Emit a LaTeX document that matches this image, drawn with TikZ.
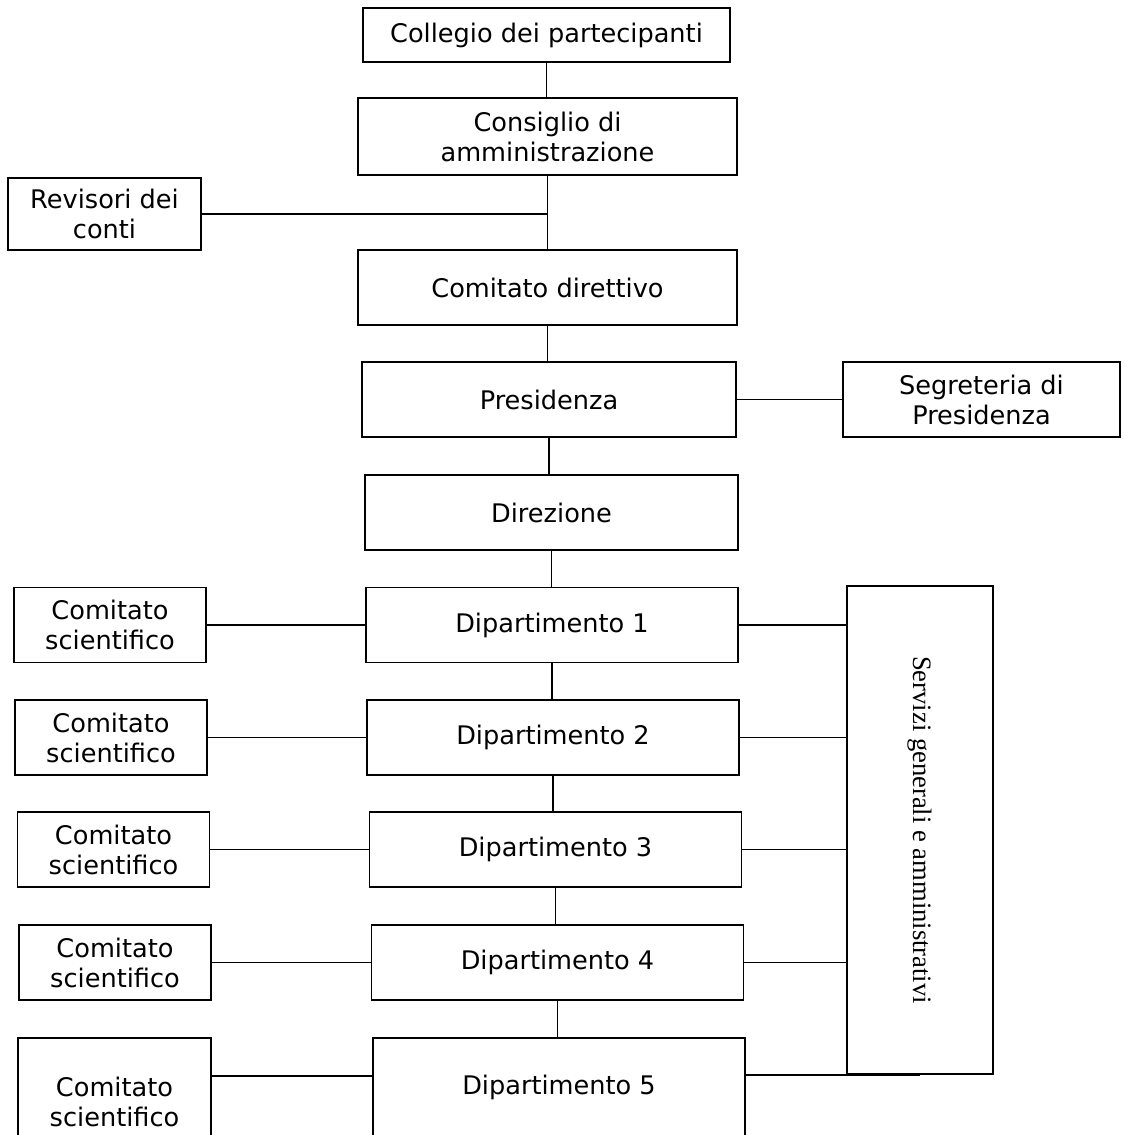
\documentclass[tikz,border=0pt]{standalone}
\usepackage{fontspec}
\setmainfont{DejaVu Sans}
\newfontfamily\servfont{Liberation Serif}
\usetikzlibrary{positioning,calc}

\begin{document}
\begin{tikzpicture}[x=0.5pt,y=-0.5pt,line width=0.8pt,
    box/.style={rectangle,draw,align=center,minimum width=#1,
      minimum height=37.5pt,font=\fontsize{12.8}{15}\selectfont},
    box/.default=186pt]
  \useasboundingbox (0,0) rectangle (1124,1135);
  \clip (0,0) rectangle (1124,1135);
  % top of the chart
  \node[box=183.5pt,minimum height=27pt] (coll) at (546.5,35)
  {Collegio dei partecipanti};
  \node[box=189.5pt,minimum height=38.5pt] (cons) at (547.5,136.5)
  {Consiglio di\\amministrazione};
  \node[box=96.5pt,minimum height=36pt] (rev) at (104.5,214)
  {Revisori dei\\conti};
  \node[box=189.5pt] (codir) at (547.5,287.5) {Comitato direttivo};
  \node[box=187pt] (pres) at (549,399.5) {Presidenza};
  \node[box=138.5pt] (segr) at (981.5,399.5) {Segreteria di\\Presidenza};
  \node[box=186.5pt] (dire) at (551.5,512.5) {Direzione};
  \draw (coll.south) -- (coll.south |- cons.north);
  \draw (cons.south) -- (cons.south |- codir.north);
  \draw (rev.east) -- (rev.east -| cons.south);
  \draw (codir.south) -- (codir.south |- pres.north);
  \draw (pres.east) -- (segr.west);
  \draw (pres.south) -- (pres.south |- dire.north);
  % services
  \node[rectangle,draw,minimum width=73pt,minimum height=244pt]
  (serv) at (920,830) {};
  \node[rotate=-90,font=\servfont\fontsize{13.3}{15}\selectfont]
  (servtxt) at (serv.center) {Servizi generali e amministrativi};
  % departments
  \foreach \i/\dx/\cx/\y in {1/552/110/625,2/553/111/737.5,%
    3/555.5/113.5/849.5,4/557.5/115/962.5}{
    \node[box] (dip\i) at (\dx,\y) {Dipartimento \i};
    \node[box=96pt] (cs\i) at (\cx,\y) {Comitato\\scientifico};
    \draw (cs\i.east) -- (dip\i.west);
    \draw (dip\i.east) -- (dip\i.east -| serv.west);
  }
  \node[box,minimum height=49pt] (dip5) at (559,1087) {Dipartimento 5};
  \node[box=96.5pt,minimum height=64pt] (cs5) at (114.5,1102)
  {Comitato\\scientifico};
  \draw (dire.south) -- (dire.south |- dip1.north);
  \draw (dip1.south) -- (dip1.south |- dip2.north);
  \draw (dip2.south) -- (dip2.south |- dip3.north);
  \draw (dip3.south) -- (dip3.south |- dip4.north);
  \draw (dip4.south) -- (dip4.south |- dip5.north);
  \draw (cs5.east |- 0,1076) -- (dip5.west |- 0,1076);
  \draw (dip5.east |- serv.south) -- (serv.south);
\end{tikzpicture}
\end{document}
